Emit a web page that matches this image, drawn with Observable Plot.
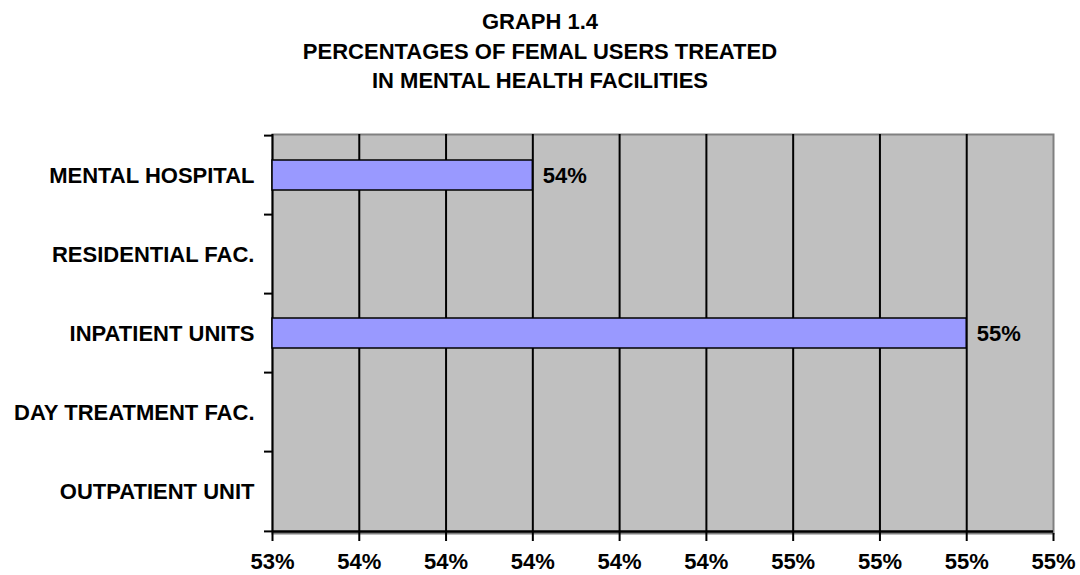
<!DOCTYPE html>
<html>
<head>
<meta charset="utf-8">
<script src="https://cdn.jsdelivr.net/npm/d3@7"></script>
<script src="https://cdn.jsdelivr.net/npm/@observablehq/plot@0.6"></script>
<style>
  body { margin: 0; background: #fff; font-family: "Liberation Sans", Arial, sans-serif; }
  #title {
    width: 1080px; height: 100px; box-sizing: border-box; padding-top: 7px;
    text-align: center; font-weight: bold; font-size: 22px; line-height: 29.5px; color: #000;
  }
</style>
</head>
<body>
<div id="title">GRAPH 1.4<br>PERCENTAGES OF FEMAL USERS TREATED<br>IN MENTAL HEALTH FACILITIES</div>
<div id="chart"></div>
<script>
// Facility types, top to bottom
const facilities = [
  "MENTAL HOSPITAL",
  "RESIDENTIAL FAC.",
  "INPATIENT UNITS",
  "DAY TREATMENT FAC.",
  "OUTPATIENT UNIT"
];
// Share of female users per facility (no bar shown where missing)
const femaleShare = [0.54, null, 0.55, null, null];
// Value axis ticks (first and last also bound the axis)
const xTicks = [0.534, 0.536, 0.538, 0.540, 0.542, 0.544, 0.546, 0.548, 0.550, 0.552];

const data = facilities.map((f, i) => ({facility: f, value: femaleShare[i]}));
const bars = data.filter(d => d.value != null);
const pct = d3.format(".0%");

const W = 1080, H = 475, mTop = 34, mBottom = 42, mLeft = 272, mRight = 27;
const step = (H - mTop - mBottom) / facilities.length;

const chart = Plot.plot({
  width: W, height: H,
  marginTop: mTop, marginBottom: mBottom, marginLeft: mLeft, marginRight: mRight,
  style: {fontFamily: "'Liberation Sans', Arial, sans-serif", fontSize: "22px", fontWeight: "bold", color: "black", background: "white"},
  x: {domain: [xTicks[0], xTicks[xTicks.length - 1]]},
  y: {domain: facilities, paddingInner: 0.62, paddingOuter: 0.31},
  marks: [
    // plot area
    Plot.frame({fill: "#c0c0c0", stroke: "#808080", strokeWidth: 2}),
    // vertical gridlines (also the left axis line)
    Plot.ruleX(xTicks.slice(0, -1), {stroke: "black", strokeWidth: 2}),
    // bottom axis line
    Plot.ruleY([facilities[facilities.length - 1]], {dy: step / 2, stroke: "black", strokeWidth: 2.5}),
    // bars
    Plot.barX(bars, {x1: xTicks[0], x2: "value", y: "facility", fill: "#9999ff", stroke: "black", strokeWidth: 1.5}),
    // value labels
    Plot.text(bars, {x: "value", y: "facility", text: d => pct(d.value), textAnchor: "start", dx: 10, fontSize: 22, fontWeight: "bold", fill: "black"}),
    // x axis
    Plot.axisX({ticks: xTicks, tickSize: 8, tickPadding: 12, tickFormat: pct, strokeWidth: 2, label: null}),
    // category labels
    Plot.axisY({tickSize: 0, tickPadding: 18, label: null}),
    // category boundary ticks
    Plot.axisY({tickSize: 8, tickFormat: () => "", dy: -step / 2, strokeWidth: 2, label: null}),
    Plot.axisY({ticks: [facilities[facilities.length - 1]], tickSize: 8, tickFormat: () => "", dy: step / 2, strokeWidth: 2, label: null})
  ]
});
document.getElementById("chart").appendChild(chart);
</script>
</body>
</html>
